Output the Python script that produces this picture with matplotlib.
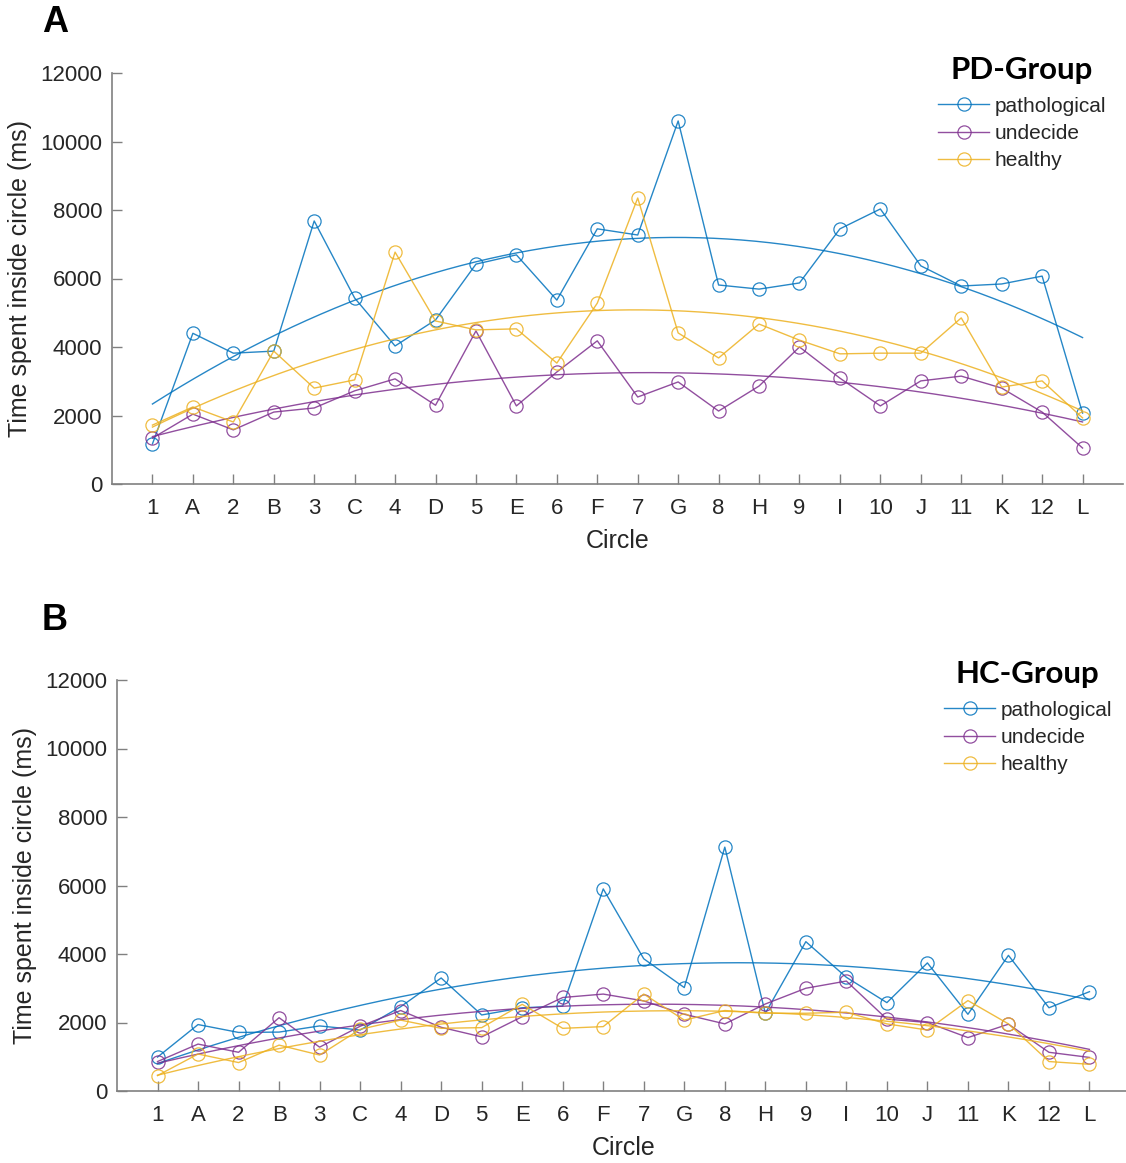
import numpy as np
import matplotlib
matplotlib.use("Agg")
import matplotlib.pyplot as plt

plt.rcParams['font.family'] = ['Liberation Sans', 'DejaVu Sans']

circles = ['1', 'A', '2', 'B', '3', 'C', '4', 'D', '5', 'E', '6', 'F',
           '7', 'G', '8', 'H', '9', 'I', '10', 'J', '11', 'K', '12', 'L']

# Panel A: PD-Group
pd_pathological = [1170, 4400, 3820, 3880, 7680, 5430, 4030, 4790, 6420, 6690, 5370, 7450,
                   7270, 10600, 5810, 5690, 5870, 7450, 8030, 6370, 5780, 5840, 6070, 2070]
pd_undecide = [1340, 2040, 1580, 2100, 2220, 2720, 3070, 2300, 4470, 2280, 3270, 4180,
               2540, 2980, 2130, 2860, 4000, 3090, 2280, 3010, 3150, 2800, 2100, 1050]
pd_healthy = [1720, 2250, 1810, 3880, 2800, 3040, 6770, 4760, 4500, 4530, 3530, 5280,
              8350, 4410, 3680, 4670, 4200, 3800, 3820, 3820, 4850, 2830, 3010, 1930]

# Panel B: HC-Group
hc_pathological = [990, 1940, 1710, 1720, 1900, 1780, 2460, 3300, 2220, 2430, 2480, 5900,
                   3860, 3020, 7120, 2270, 4360, 3320, 2580, 3740, 2240, 3960, 2430, 2900]
hc_undecide = [860, 1370, 1130, 2140, 1280, 1890, 2350, 1860, 1580, 2170, 2730, 2830,
               2630, 2240, 1960, 2540, 3000, 3210, 2100, 2000, 1560, 1950, 1130, 980]
hc_healthy = [450, 1080, 830, 1340, 1050, 1800, 2070, 1830, 1850, 2530, 1830, 1880,
              2830, 2070, 2350, 2270, 2270, 2300, 1960, 1780, 2640, 1960, 860, 780]

series_names = ['pathological', 'undecide', 'healthy']
colors = ['#0072BD', '#7E2F8E', '#EDB120']
yticks = [0, 2000, 4000, 6000, 8000, 10000, 12000]

W, H = 1126, 1163
fig = plt.figure(figsize=(W / 100, H / 100), dpi=100)

def fr(x0, y0, x1, y1):
    return [x0 / W, 1 - y1 / H, (x1 - x0) / W, (y1 - y0) / H]

axis_gray = '#808080'
text_gray = '#262626'

def panel(rect, data, title, leg_anchor, letter, letter_pos):
    ax = fig.add_axes(rect)
    x = np.arange(1, len(circles) + 1)
    handles = []
    for vals, c, name in zip(data, colors, series_names):
        v = np.array(vals, dtype=float)
        h, = ax.plot(x, v, '-o', color=c, lw=1.0, ms=9.5, mfc='none', mew=0.9,
                     alpha=0.85, label=name)
        handles.append(h)
        coef = np.polyfit(x, v, 2)
        xf = np.linspace(1, len(circles), 200)
        ax.plot(xf, np.polyval(coef, xf), '-', color=c, lw=1.0, alpha=0.85)
    ax.set_xlim(0, 25)
    ax.set_ylim(0, 12000)
    ax.set_xticks(x)
    ax.set_xticklabels(circles)
    ax.set_yticks(yticks)
    ax.set_yticklabels([str(t) for t in yticks])
    for s in ['top', 'right']:
        ax.spines[s].set_visible(False)
    for s in ['left', 'bottom']:
        ax.spines[s].set_color(axis_gray)
        ax.spines[s].set_linewidth(1.2)
    ax.tick_params(direction='in', length=7.5, width=1.0, color=axis_gray,
                   labelsize=16, labelcolor=text_gray)
    ax.tick_params(axis='x', pad=10)
    ax.tick_params(axis='y', pad=7)
    ax.set_xlabel('Circle', fontsize=18, color=text_gray, labelpad=7)
    ax.set_ylabel('Time spent inside circle (ms)', fontsize=18, color=text_gray, labelpad=6)
    leg = ax.legend(handles=handles, title=title, loc='upper left',
                    bbox_to_anchor=leg_anchor, bbox_transform=fig.transFigure,
                    frameon=False, fontsize=15, numpoints=1, handlelength=2.45,
                    handletextpad=0.25, labelspacing=0.4, borderaxespad=0,
                    borderpad=0,
                    title_fontproperties={'family': 'Lato', 'weight': 'bold', 'size': 22.5})
    leg._legend_box.sep = 9
    for t in leg.get_texts():
        t.set_color(text_gray)
    fig.text(letter_pos[0] / W, 1 - letter_pos[1] / H, letter, fontsize=26,
             fontweight='bold', ha='left', va='center', color='black')
    return ax

panel(fr(112, 73, 1123, 484), [pd_pathological, pd_undecide, pd_healthy],
      'PD-Group', (938 / W, 1 - 56 / H), 'A', (42, 22))
panel(fr(117, 680, 1130, 1091), [hc_pathological, hc_undecide, hc_healthy],
      'HC-Group', (944 / W, 1 - 660 / H), 'B', (42, 620))

fig.savefig('out.png', dpi=100)
